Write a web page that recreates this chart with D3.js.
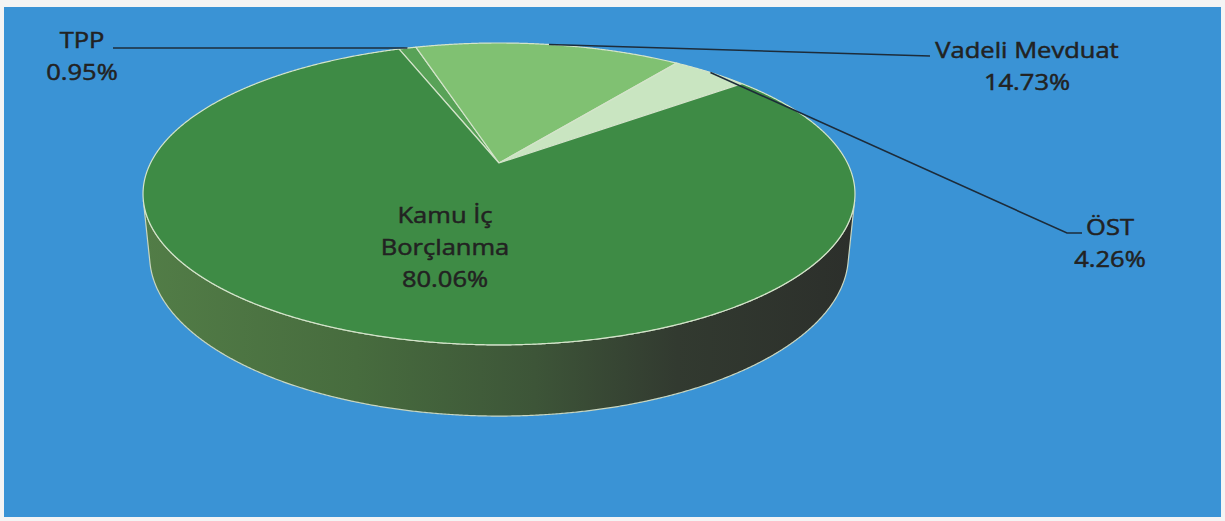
<!DOCTYPE html>
<html><head><meta charset="utf-8">
<script src="https://cdn.jsdelivr.net/npm/d3@7"></script>
<style>body{margin:0;background:#fff;} svg{display:block}</style>
</head><body><svg id="c" width="1225" height="521"></svg>
<script>
// ---- data ----
const categories = ["TPP", "Vadeli Mevduat", "ÖST", "Kamu İç Borçlanma"];
const values = [0.95, 14.73, 4.26, 80.06];
const valueLabels = ["0.95%", "14.73%", "4.26%", "80.06%"];
const sliceColors = ["#58a257", "#80c172", "#c9e5c1", "#3e8b45"];

// ---- layout (label placement, leader elbows) ----
const labelLines = [["TPP", "0.95%"], ["Vadeli Mevduat", "14.73%"], ["ÖST", "4.26%"], ["Kamu İç", "Borçlanma", "80.06%"]];
const labelPos = [[82, 48], [1027, 58], [1110, 235], [445, 223]];
const leaderPts = [[[113, 48]], [[930, 56]], [[1067, 233], [1082, 233]], null];

const svg = d3.select("#c");
const W = 1225, H = 521;

svg.append("rect").attr("x", 0).attr("y", 0).attr("width", W).attr("height", H).attr("fill", "#f4f4f4");
svg.append("rect").attr("x", 4).attr("y", 7).attr("width", 1217).attr("height", 510).attr("fill", "#3a93d5");

// ---- perspective projection of a 3D disk ----
const cx = 499, cy = 163, S = 1547, D = 4.44, sinP = 0.415, cosP = Math.sqrt(1 - sinP * sinP), T = 0.193;
function proj(x, y, z) {
  const depth = D + z * cosP - y * sinP;
  const sx = x / depth;
  const sy = (y * cosP + z * sinP) / depth;
  return [cx + S * sx, cy - S * sy];
}
const rim = (a, y) => proj(Math.sin(a), y, Math.cos(a));

const color = d3.scaleOrdinal().domain(categories).range(sliceColors);
const start = -20 * Math.PI / 180;
const pie = d3.pie().sort(null).value(d => d.value).startAngle(start).endAngle(start + 2 * Math.PI);
const data = pie(categories.map((c, i) => ({ name: c, value: values[i], i })));

const defs = svg.append("defs");
const g = defs.append("linearGradient").attr("id", "side").attr("gradientUnits", "userSpaceOnUse")
  .attr("x1", 143).attr("x2", 855).attr("y1", 0).attr("y2", 0);
[[0, "#527d47"], [0.3, "#476c3e"], [0.55, "#3d5538"], [0.75, "#323a30"], [1, "#2c2f2b"]]
  .forEach(([o, c]) => g.append("stop").attr("offset", o).attr("stop-color", c));

const step = Math.PI / 720;
function arcPts(a0, a1, y) {
  const pts = [];
  const n = Math.max(2, Math.ceil((a1 - a0) / step));
  for (let k = 0; k <= n; k++) pts.push(rim(a0 + (a1 - a0) * k / n, y));
  return pts;
}
const line = d3.line();

// visible side wall interval
const zc = -1 / (D * cosP);
const b1 = Math.acos(zc), b2 = 2 * Math.PI - b1;
const walls = svg.append("g");
data.forEach(d => {
  for (let k = -1; k <= 1; k++) {
    const lo = Math.max(d.startAngle, b1 + 2 * Math.PI * k);
    const hi = Math.min(d.endAngle, b2 + 2 * Math.PI * k);
    if (hi > lo) {
      const top = arcPts(lo, hi, 0);
      const bot = arcPts(lo, hi, -T).reverse();
      walls.append("path").attr("d", line(top.concat(bot)) + "Z")
        .attr("fill", "url(#side)").attr("stroke", "#c9d6c0").attr("stroke-width", 1.2).attr("stroke-linejoin", "round");
    }
  }
});

// top faces
const tops = svg.append("g");
data.forEach(d => {
  const pts = [proj(0, 0, 0)].concat(arcPts(d.startAngle, d.endAngle, 0));
  tops.append("path").attr("d", line(pts) + "Z")
    .attr("fill", color(d.data.name)).attr("stroke", "#d4e4ca").attr("stroke-width", 1.2).attr("stroke-linejoin", "round");
});

// leader lines
data.forEach((d, i) => {
  if (!leaderPts[i]) return;
  const mid = (d.startAngle + d.endAngle) / 2;
  const pts = [rim(mid, 0)].concat(leaderPts[i]);
  svg.append("path").attr("d", line(pts)).attr("fill", "none")
    .attr("stroke", "#1d2c3a").attr("stroke-width", 1.6);
});

// labels
data.forEach((d, i) => {
  const [lx, ly] = labelPos[i];
  const t = svg.append("g").attr("transform", `translate(${lx},${ly}) scale(1.16,1)`);
  labelLines[i].forEach((s, j) => {
    t.append("text").attr("x", 0).attr("y", j * 32).attr("text-anchor", "middle")
      .attr("font-family", "'Open Sans', sans-serif").attr("font-size", 22)
      .attr("fill", "#222").attr("stroke", "#222").attr("stroke-width", 0.5).text(s);
  });
});
</script>
</body></html>
